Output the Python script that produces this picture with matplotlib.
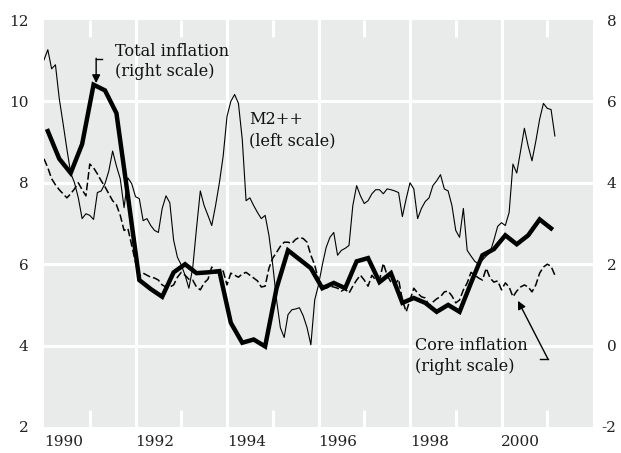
import numpy as np
import matplotlib
matplotlib.use("Agg")
import matplotlib.pyplot as plt

# ---------------- data ----------------
start_year = 1990
# M2++ growth, monthly, left scale (Jan 1990 .. Mar 2001)
m2pp = [11.02, 11.27, 10.80, 10.90, 10.07, 9.46, 8.83, 8.24, 8.00, 7.63, 7.12, 7.24,
        7.20, 7.10, 7.76, 7.80, 7.98, 8.29, 8.78, 8.41, 8.10, 7.39, 8.12, 7.98,
        7.66, 7.61, 7.07, 7.12, 6.95, 6.83, 6.78, 7.37, 7.68, 7.51, 6.59, 6.17,
        5.98, 5.73, 5.41, 5.90, 6.88, 7.80, 7.44, 7.20, 6.95, 7.44, 8.00, 8.66,
        9.63, 10.00, 10.17, 9.95, 9.07, 7.56, 7.63, 7.44, 7.27, 7.12, 7.20, 6.71,
        5.98, 5.12, 4.44, 4.20, 4.76, 4.88, 4.90, 4.93, 4.73, 4.44, 4.02, 5.12,
        5.49, 5.98, 6.41, 6.66, 6.78, 6.22, 6.34, 6.39, 6.46, 7.44, 7.93, 7.68,
        7.49, 7.56, 7.73, 7.83, 7.83, 7.73, 7.85, 7.83, 7.80, 7.76, 7.17, 7.61,
        8.00, 7.85, 7.12, 7.37, 7.54, 7.63, 7.93, 8.05, 8.20, 7.85, 7.80, 7.44,
        6.83, 6.66, 7.37, 6.34, 6.20, 6.07, 6.00, 6.10, 6.20, 6.29, 6.59, 6.93,
        7.02, 6.95, 7.27, 8.46, 8.24, 8.78, 9.34, 8.90, 8.54, 9.02, 9.56, 9.95,
        9.83, 9.80, 9.15]

# Core inflation, monthly, right scale
core = [4.59, 4.37, 4.10, 3.95, 3.83, 3.73, 3.63, 3.73, 3.85, 4.00, 3.83, 3.68,
        4.46, 4.37, 4.22, 4.05, 3.90, 3.73, 3.56, 3.46, 3.20, 2.83, 2.88, 2.46,
        2.05, 1.71, 1.78, 1.73, 1.68, 1.66, 1.61, 1.49, 1.44, 1.44, 1.49, 1.68,
        1.80, 1.73, 1.63, 1.61, 1.44, 1.37, 1.54, 1.63, 1.93, 1.78, 1.83, 1.83,
        1.49, 1.78, 1.73, 1.68, 1.76, 1.80, 1.73, 1.66, 1.59, 1.44, 1.46, 1.90,
        2.15, 2.29, 2.44, 2.54, 2.54, 2.51, 2.61, 2.66, 2.63, 2.54, 2.22, 1.98,
        1.61, 1.49, 1.41, 1.46, 1.44, 1.41, 1.34, 1.39, 1.29, 1.46, 1.61, 1.73,
        1.61, 1.46, 1.73, 1.61, 1.61, 2.02, 1.73, 1.56, 1.49, 1.63, 1.12, 0.83,
        1.12, 1.41, 1.29, 1.20, 1.17, 0.98, 1.07, 1.15, 1.20, 1.32, 1.34, 1.22,
        1.05, 1.12, 1.37, 1.54, 1.80, 1.73, 1.66, 1.61, 1.90, 1.66, 1.56, 1.59,
        1.37, 1.54, 1.44, 1.20, 1.34, 1.44, 1.49, 1.44, 1.32, 1.49, 1.78, 1.93,
        2.00, 1.95, 1.73]

# Total inflation, quarterly (middle month), right scale, 1990Q1 .. 2001Q1
total = [5.27, 4.59, 4.24, 4.95, 6.41, 6.27, 5.71, 3.68, 1.61, 1.39, 1.20, 1.80,
         2.00, 1.78, 1.80, 1.83, 0.56, 0.07, 0.15, -0.02, 1.41, 2.34, 2.12, 1.90,
         1.41, 1.54, 1.41, 2.07, 2.15, 1.56, 1.78, 1.05, 1.17, 1.05, 0.83, 1.00,
         0.83, 1.54, 2.22, 2.37, 2.71, 2.49, 2.71, 3.10, 2.88]

left_ticks = [2, 4, 6, 8, 10, 12]
right_ticks = [-2, 0, 2, 4, 6, 8]
year_labels = ["1990", "1992", "1994", "1996", "1998", "2000"]

# dates (decimal years)
x_month = start_year + np.arange(len(m2pp)) / 12.0
x_core = start_year + np.arange(len(core)) / 12.0
x_quarter = start_year + (3 * np.arange(len(total)) + 1) / 12.0

# ---------------- figure ----------------
W, H = 621, 453
fig = plt.figure(figsize=(W / 100, H / 100), dpi=100)
ax = fig.add_axes([44 / W, 1 - 427 / H, (593 - 44) / W, (427 - 20) / H])
ax2 = ax.twinx()

bg = "#e8ebea"
ax.set_facecolor(bg)
ax.set_zorder(0)
ax2.set_zorder(1)
ax2.patch.set_visible(False)

for a in (ax, ax2):
    for s in a.spines.values():
        s.set_visible(False)

ax.set_xlim(1990, 2002)
ax.set_ylim(2, 12)
ax2.set_ylim(-2, 8)

# white grid
for yv in left_ticks[1:-1]:
    ax.axhline(yv, color="white", lw=2.2, zorder=1)
for yr in range(1992, 2001, 2):
    ax.axvline(yr, color="white", lw=2.2, zorder=1)
# short white ticks at odd years (top and bottom)
for yr in range(1991, 2002, 2):
    ax.plot([yr, yr], [2, 2.42], color="white", lw=2.2, zorder=1, solid_capstyle="butt")
    ax.plot([yr, yr], [12, 11.58], color="white", lw=2.2, zorder=1, solid_capstyle="butt")

# series
ax.plot(x_month, m2pp, color="black", lw=0.8, zorder=3)
ax2.plot(x_core, core, color="black", lw=1.1, linestyle=(0, (5, 2)), zorder=3)
ax2.plot(x_quarter, total, color="black", lw=3.2, zorder=4, solid_joinstyle="miter")

# ticks
font = "DejaVu Serif"
fs = 11
ax.set_yticks(left_ticks)
ax.set_yticklabels([str(v) for v in left_ticks], fontfamily=font, fontsize=fs, color="#222222")
ax2.set_yticks(right_ticks)
ax2.set_yticklabels([str(v) for v in right_ticks], fontfamily=font, fontsize=fs, color="#222222")
for lab in ax2.get_yticklabels():
    lab.set_horizontalalignment("right")
ax.tick_params(axis="y", length=0, pad=11)
ax2.tick_params(axis="y", length=0, pad=17)

ax.set_xticks([int(y) + 0.42 for y in year_labels])
ax.set_xticklabels(year_labels, fontfamily=font, fontsize=fs, color="#222222")
ax.tick_params(axis="x", length=0, pad=6)

# annotations
tkw = dict(fontfamily=font, fontsize=11.6, color="#111111", linespacing=1.3, va="center", ha="left")
ax.text(1991.55, 10.98, "Total inflation\n(right scale)", **tkw, zorder=6)
ax.text(1994.48, 9.29, "M2++\n(left scale)", **tkw, zorder=6)
ax.text(1998.11, 3.75, "Core inflation\n(right scale)", **tkw, zorder=6)

# elbow arrow for total inflation
ax.plot([1991.27, 1991.14], [11.05, 11.05], color="black", lw=1.0, zorder=6)
ax.annotate("", xy=(1991.14, 10.45), xytext=(1991.14, 11.06),
            arrowprops=dict(arrowstyle="-|>", color="black", lw=1.0, mutation_scale=12,
                            shrinkA=0, shrinkB=0), zorder=6)
# arrow for core inflation
ax.plot([2000.84, 2001.02], [3.66, 3.66], color="black", lw=1.0, zorder=6)
ax.annotate("", xy=(2000.36, 5.1), xytext=(2001.02, 3.66),
            arrowprops=dict(arrowstyle="-|>", color="black", lw=1.0, mutation_scale=12,
                            shrinkA=0, shrinkB=0), zorder=6)

fig.savefig("out.png", dpi=100, facecolor="white")
